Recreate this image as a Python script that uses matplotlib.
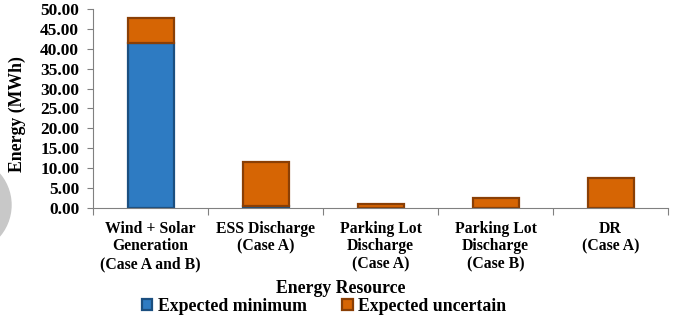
import numpy as np
import matplotlib
matplotlib.use("Agg")
import matplotlib.pyplot as plt
from matplotlib.patches import Wedge

plt.rcParams["font.family"] = ["Liberation Serif", "DejaVu Serif"]
plt.rcParams["font.weight"] = "bold"
plt.rcParams["axes.labelweight"] = "bold"

# Energy per resource (MWh)
resources = [
    "Wind + Solar\nGeneration\n(Case A and B)",
    "ESS Discharge\n(Case A)",
    "Parking Lot\nDischarge\n(Case A)",
    "Parking Lot\nDischarge\n(Case B)",
    "DR\n(Case A)",
]
expected_min = [41.5, 0.5, 0.0, 0.0, 0.0]
expected_unc = [6.2, 11.0, 1.0, 2.5, 7.5]

blue, blue_edge = "#2E7BC2", "#1B4F80"
orange, orange_edge = "#D66504", "#8A3F05"

fig = plt.figure(figsize=(6.81, 3.21), dpi=100)
ax = fig.add_axes([0.1366, 0.352, 0.8444, 0.62])

x = np.arange(len(resources))
w = 0.4
ax.bar(x, expected_min, w, color=blue, edgecolor=blue_edge, linewidth=1.6,
       label="Expected minimum")
ax.bar(x, expected_unc, w, bottom=expected_min, color=orange,
       edgecolor=orange_edge, linewidth=1.6, label="Expected uncertain")

ax.set_xlim(-0.5, len(resources) - 0.5)
ax.set_ylim(0, 50)
yt = np.arange(0, 50.1, 5)
ax.set_yticks(yt)
ax.set_yticklabels([f"{v:.2f}" for v in yt], fontsize=12.5)

# category ticks sit on the boundaries between groups
ax.set_xticks(np.arange(-0.5, len(resources)))
ax.set_xticklabels([])
ax.set_xticks(x, minor=True)
ax.set_xticklabels(resources, minor=True, fontsize=11.3, linespacing=1.15)
ax.tick_params(axis="x", which="minor", length=0, pad=9)
ax.tick_params(axis="x", which="major", length=5, color="#808080")
ax.tick_params(axis="y", length=4, color="#808080", pad=6)

for s in ["top", "right"]:
    ax.spines[s].set_visible(False)
for s in ["left", "bottom"]:
    ax.spines[s].set_color("#808080")

ax.set_xlabel("Energy Resource", fontsize=12.8)
ax.xaxis.set_label_coords(0.43, -0.36)
ax.set_ylabel("Energy (MWh)", fontsize=12.8)
ax.yaxis.set_label_coords(-0.116, 0.47)

fig.legend(loc="center", bbox_to_anchor=(0.476, 0.045), ncol=2, frameon=False,
           fontsize=12.8, handlelength=0.6, handleheight=0.6, handletextpad=0.3,
           columnspacing=2.0)

# faded logo mark at the left edge
fig.patches.append(Wedge((-0.37, 1.16), 0.48, -90, 90, width=0.16,
                         transform=fig.dpi_scale_trans, color="#C8C8C8", zorder=-1))

fig.savefig("out.png", dpi=100)
